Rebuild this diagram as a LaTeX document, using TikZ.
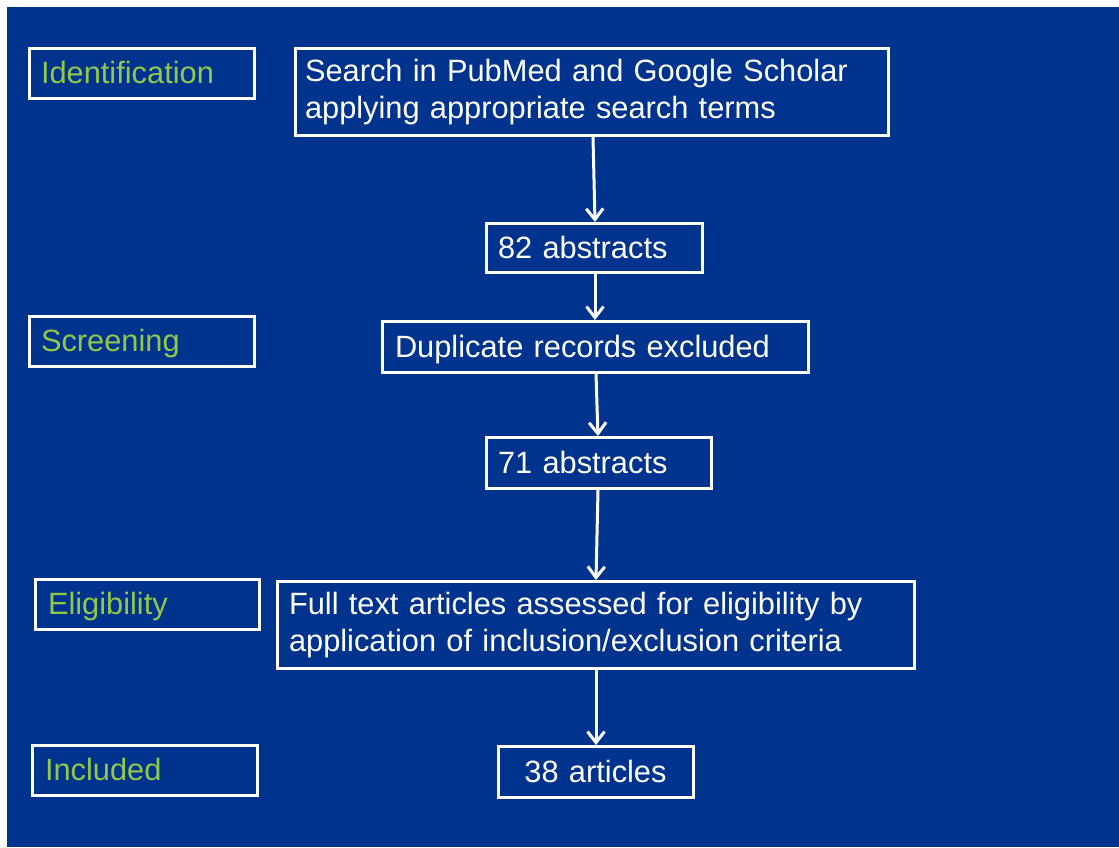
\documentclass[tikz,border=0pt]{standalone}
\usepackage{fontspec}
\setmainfont{Liberation Sans}
\usetikzlibrary{arrows.meta}
\definecolor{bg}{HTML}{00338D}
\definecolor{lab}{HTML}{92C84A}
\tikzset{
  box/.style={draw=white, line width=3pt, rectangle, inner ysep=0pt, inner xsep=12pt,
    align=left, font=\fontsize{30.8}{37}\selectfont, text=white},
  one/.style={text height=25pt, text depth=5pt},
  stage/.style={box, one, text=lab},
  arr/.style={draw=white, line width=3pt, -{Straight Barb[length=11pt,width=17pt,line width=3pt]}}
}
\begin{document}
\begin{tikzpicture}[x=1pt,y=-1pt]
\useasboundingbox (0,0) rectangle (1119,847);
\fill[bg] (7,7) rectangle (1119,847);
\node[stage, text width=201pt, minimum height=50pt] (idl) at (141.5,73.5) {Identification};
\node[stage, text width=201pt, minimum height=50pt] (scr) at (141.5,341.5) {Screening};
\node[stage, text width=198pt, minimum height=50pt, inner xsep=13pt] (eli) at (147,604.5) {Eligibility};
\node[stage, text width=199pt, minimum height=50pt, inner xsep=13pt] (inc) at (144.5,770.5) {Included};
\node[box, text width=573pt, inner xsep=10pt, minimum height=87pt] (search) at (591.5,92) {Search in PubMed and Google Scholar\\applying appropriate search terms};
\node[box, one, text width=192pt, minimum height=49pt] (n82) at (594,248) {82 abstracts};
\node[box, one, text width=400pt, inner xsep=13pt, minimum height=51pt] (dup) at (595,347) {Duplicate records excluded};
\node[box, one, text width=201pt, minimum height=51pt] (n71) at (598.5,463) {71 abstracts};
\node[box, text width=613pt, minimum height=87pt] (full) at (595.5,625) {Full text articles assessed for eligibility by\\application of inclusion/exclusion criteria};
\node[box, one, text width=171pt, align=center, minimum height=51pt] (n38) at (595.5,772) {38 articles};
\draw[arr] ([xshift=1.5pt]search.south) -- ([xshift=1pt]n82.north);
\draw[arr] ([xshift=1pt]n82.south) -- (dup.north);
\draw[arr] ([xshift=1pt]dup.south) -- ([xshift=-0.5pt]n71.north);
\draw[arr] ([xshift=-0.5pt]n71.south) -- ([xshift=0.5pt]full.north);
\draw[arr] ([xshift=0.5pt]full.south) -- ([xshift=0.5pt]n38.north);
\end{tikzpicture}
\end{document}
